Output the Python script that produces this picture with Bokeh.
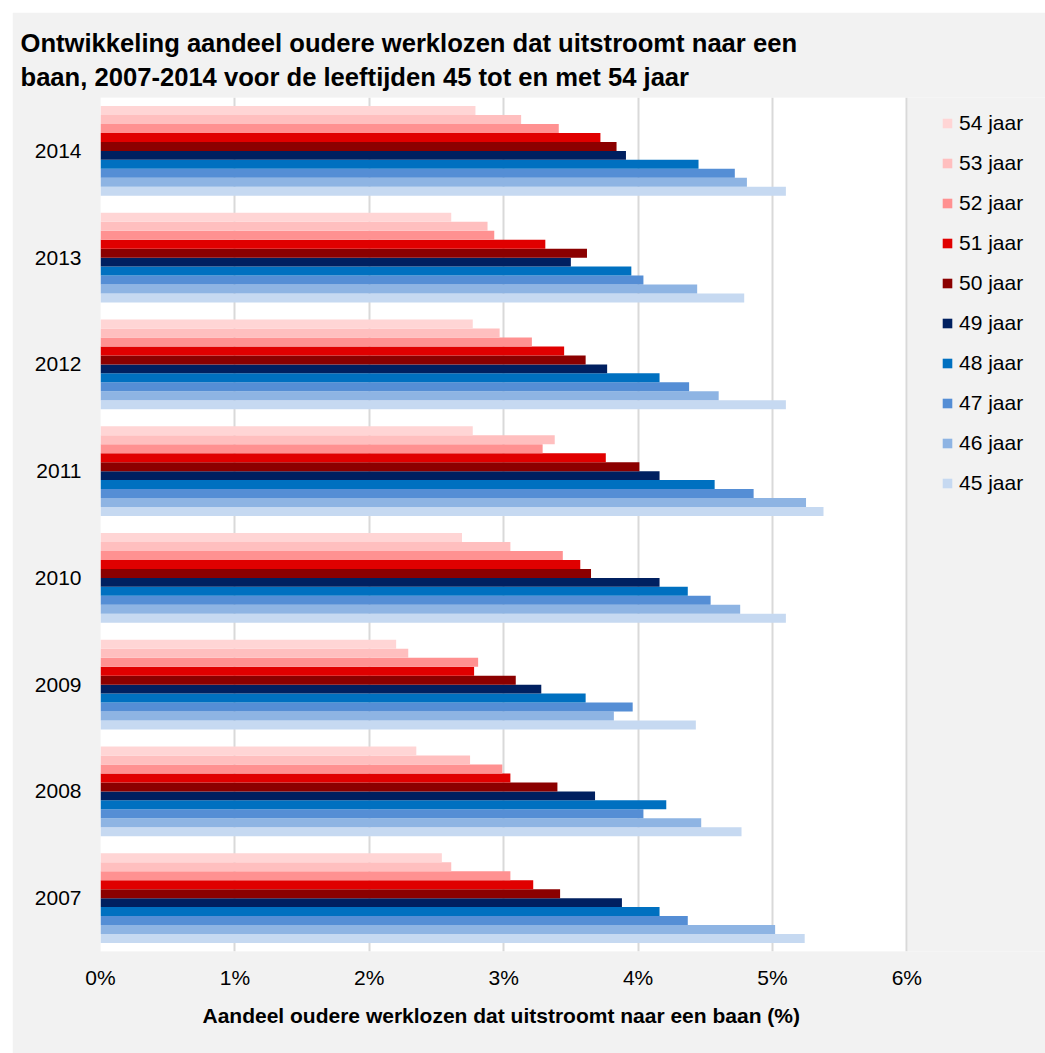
from bokeh.plotting import figure
from bokeh.models import (ColumnDataSource, FactorRange, Range1d, FixedTicker, Legend,
                          LegendItem, Title, BoxAnnotation)
from bokeh.transform import dodge
from bokeh.embed import file_html
from bokeh.resources import INLINE

years = ["2007", "2008", "2009", "2010", "2011", "2012", "2013", "2014"]
ages = ["45 jaar", "46 jaar", "47 jaar", "48 jaar", "49 jaar",
        "50 jaar", "51 jaar", "52 jaar", "53 jaar", "54 jaar"]

# values in %, per age, ordered as years (2007..2014)
v45 = [5.24, 4.77, 4.43, 5.10, 5.38, 5.10, 4.79, 5.10]
v46 = [5.02, 4.47, 3.82, 4.76, 5.25, 4.60, 4.44, 4.81]
v47 = [4.37, 4.04, 3.96, 4.54, 4.86, 4.38, 4.04, 4.72]
v48 = [4.16, 4.21, 3.61, 4.37, 4.57, 4.16, 3.95, 4.45]
v49 = [3.88, 3.68, 3.28, 4.16, 4.16, 3.77, 3.50, 3.91]
v50 = [3.42, 3.40, 3.09, 3.65, 4.01, 3.61, 3.62, 3.84]
v51 = [3.22, 3.05, 2.78, 3.57, 3.76, 3.45, 3.31, 3.72]
v52 = [3.05, 2.99, 2.81, 3.44, 3.29, 3.21, 2.93, 3.41]
v53 = [2.61, 2.75, 2.29, 3.05, 3.38, 2.97, 2.88, 3.13]
v54 = [2.54, 2.35, 2.20, 2.69, 2.77, 2.77, 2.61, 2.79]

series = [v45, v46, v47, v48, v49, v50, v51, v52, v53, v54]
colors = ["#C6D9F1", "#8EB4E3", "#558ED5", "#0070C0", "#002060",
          "#8B0000", "#E00000", "#FF9191", "#FFBFBF", "#FFD5D5"]

x_ticks = [0, 1, 2, 3, 4, 5, 6]
x_max = 6.005
title1 = "Ontwikkeling aandeel oudere werklozen dat uitstroomt naar een"
title2 = "baan, 2007-2014 voor de leeftijden 45 tot en met 54 jaar"
x_label = "Aandeel oudere werklozen dat uitstroomt naar een baan (%)"

data = {"year": years}
for a, s in zip(ages, series):
    data[a] = s
src = ColumnDataSource(data)

FONT = "Liberation Sans"
BG = "#f2f2f2"

W, H = 1033, 1041
LEFT, TOP, BOTTOM = 88, 85, 102
plot_px = 807  # pixel width of the 0..6% plot area
x_end = x_max * (W - LEFT) / plot_px

p = figure(width=W, height=H, y_range=FactorRange(factors=years, range_padding=0),
           x_range=Range1d(0, x_end), output_backend="svg", toolbar_location=None,
           min_border_left=LEFT, min_border_right=0, min_border_top=TOP,
           min_border_bottom=BOTTOM)
p.margin = (12, 0, 0, 12)
p.background_fill_color = BG
p.border_fill_color = BG
p.outline_line_color = None
p.title = None

# white plot area (0 .. 6%)
box = BoxAnnotation(left=0, right=x_max, fill_color="white", fill_alpha=1,
                    line_color=None, level="underlay")
p.add_layout(box)
p.center = [box] + [r for r in p.center if r is not box]

n = len(ages)
bar_h = 0.0843
renderers = []
for i, (a, c) in enumerate(zip(ages, colors)):
    off = -n * bar_h / 2 + bar_h * (i + 0.5)
    r = p.hbar(y=dodge("year", off, range=p.y_range), right=a, left=0, height=bar_h,
               source=src, fill_color=c, line_color=None)
    renderers.append(r)

# axes
p.xaxis.ticker = FixedTicker(ticks=x_ticks)
p.xaxis.major_label_overrides = {t: f"{t}%" for t in x_ticks}
p.xaxis.axis_line_color = None
p.xaxis.major_tick_line_color = None
p.xaxis.minor_tick_line_color = None
p.xaxis.major_label_text_font = FONT
p.xaxis.major_label_text_font_size = "21px"
p.xaxis.major_label_text_color = "black"
p.xaxis.major_label_standoff = 8

p.add_layout(Title(text=x_label, align="left", offset=102,
                   text_font=FONT, text_font_size="21px", text_font_style="bold",
                   text_color="black", standoff=21), "below")

p.yaxis.axis_line_color = None
p.yaxis.major_tick_line_color = None
p.yaxis.minor_tick_line_color = None
p.yaxis.major_label_text_font = FONT
p.yaxis.major_label_text_font_size = "21px"
p.yaxis.major_label_text_color = "black"
p.yaxis.major_label_standoff = 13

p.xgrid.grid_line_color = "#d9d9d9"
p.xgrid.grid_line_width = 2
p.ygrid.grid_line_color = None

# titles
for t, so in [(title2, 14), (title1, -6)]:
    p.add_layout(Title(text=t, align="left", offset=-80, text_font=FONT,
                       text_font_size="25.6px", text_font_style="bold",
                       text_color="black", standoff=so), "above")

# legend
items = [LegendItem(label=a, renderers=[r]) for a, r in zip(ages, renderers)][::-1]
leg = Legend(items=items, location="top_right", padding=0, margin=14,
             glyph_width=12, glyph_height=12, label_standoff=6, spacing=16,
             label_width=72,
             label_text_font=FONT, label_text_font_size="21px", label_text_color="black",
             background_fill_alpha=0, border_line_color=None)
p.add_layout(leg, "center")

open("out.html", "w").write(file_html(p, INLINE))
